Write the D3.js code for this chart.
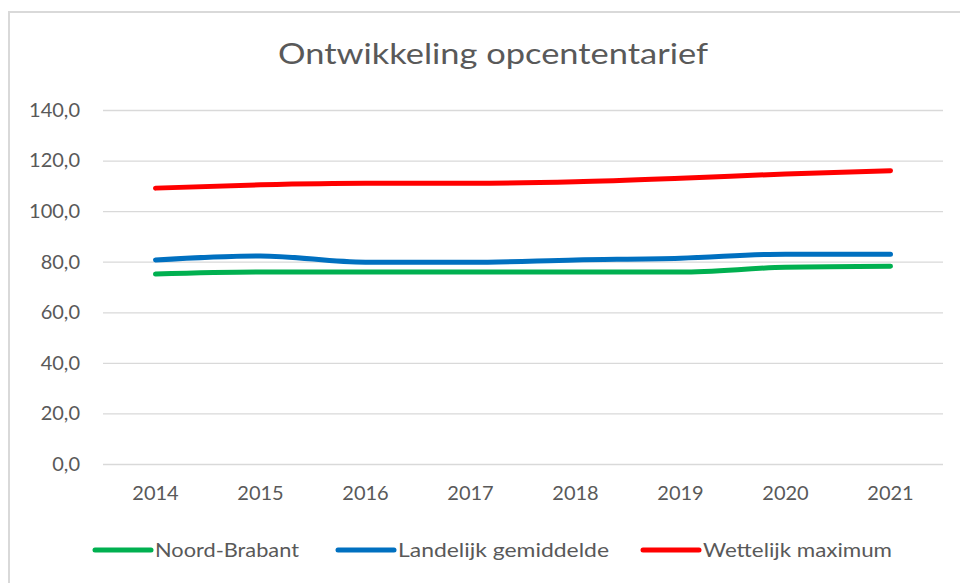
<!DOCTYPE html>
<html>
<head>
<meta charset="utf-8">
<script src="https://cdn.jsdelivr.net/npm/d3@7"></script>
<style>
	body{margin:0;background:#fff;}
	#line-div{width:960px;height:583px;}
	.axis text{font-family:Lato, "Open Sans", sans-serif;fill:#595959;}
</style>
</head>
<body>
<div id="line-div"></div>
<script>
var years=["2014","2015","2016","2017","2018","2019","2020","2021"];
var noordBrabant=[75.1,75.9,75.9,75.9,75.9,75.9,77.8,78.2];
var landelijk=[80.7,82.3,79.8,79.8,80.7,81.4,83.0,83.0];
var wettelijk=[109.1,110.4,111.0,111.0,111.6,113.0,114.7,116.0];
var yTicks=[0,20,40,60,80,100,120,140];
var seriesNames=["Noord-Brabant","Landelijk gemiddelde","Wettelijk maximum"];
var colorArr={"Noord-Brabant":"#00B050","Landelijk gemiddelde":"#0070C0","Wettelijk maximum":"#FF0000"};

var width=960, height=583;
var padding={left:103,right:17,top:110,bottom:119};

var svg=d3.select("#line-div")
		.append("svg")
		.attr("width",width)
		.attr("height",height);

// chart frame
svg.append("rect")
	.attr("x",9).attr("y",12)
	.attr("width",width).attr("height",height)
	.attr("fill","#fff")
	.attr("stroke","#D9D9D9")
	.attr("stroke-width",2);

svg.append("text")
	.attr("x",493)
	.attr("y",64)
	.attr("text-anchor","middle")
	.attr("textLength",430)
	.attr("lengthAdjust","spacingAndGlyphs")
	.style("font-family","Lato, 'Open Sans', sans-serif")
	.style("font-size","28px")
	.style("fill","#595959")
	.text("Ontwikkeling opcententarief");

var x_scale=d3.scaleBand().domain(years).range([padding.left,width-padding.right]);
var y_scale=d3.scaleLinear().domain([0,140]).range([height-padding.bottom,padding.top]);

var y_axis=d3.axisLeft(y_scale)
	.tickValues(yTicks)
	.tickSize(-(width-padding.left-padding.right))
	.tickPadding(23)
	.tickFormat(function(d){ return d3.format(".1f")(d).replace(".",","); });
var yg=svg.append("g")
	.attr("class","y axis")
	.attr("transform","translate("+padding.left+",0)")
	.call(y_axis);
yg.select(".domain").remove();
yg.selectAll("line").attr("stroke","#D9D9D9").attr("stroke-width",1.3);
yg.selectAll("text").style("font-size","20px");

var xg=svg.append("g")
	.attr("class","x axis")
	.attr("transform","translate(0,"+(height-padding.bottom)+")")
	.call(d3.axisBottom(x_scale).tickSize(0).tickPadding(22));
xg.select(".domain").remove();
xg.selectAll("text").style("font-size","20px");

var lineCurve=d3.line()
	.curve(d3.curveMonotoneX)
	.x(function(d,i){ return x_scale(years[i])+x_scale.bandwidth()/2; })
	.y(function(d){ return y_scale(d); });

var values=[noordBrabant,landelijk,wettelijk];
svg.append("g").attr("class","lineg")
	.selectAll("path")
	.data(values)
	.enter().append("path")
	.attr("d",function(d){ return lineCurve(d); })
	.style("stroke",function(d,i){ return colorArr[seriesNames[i]]; })
	.style("stroke-width","5px")
	.style("stroke-linecap","round")
	.style("fill","none");

// legend
var legendX=[95,338,643];
var legendW=[144,211,189];
var legend=svg.append("g").attr("class","labeltext")
	.selectAll("g")
	.data(seriesNames)
	.enter().append("g")
	.attr("transform",function(d,i){ return "translate("+legendX[i]+",550)"; });
legend.append("line")
	.attr("x1",0).attr("x2",56)
	.attr("y1",0).attr("y2",0)
	.attr("stroke",function(d){ return colorArr[d]; })
	.attr("stroke-width",5)
	.attr("stroke-linecap","round");
legend.append("text")
	.attr("x",60)
	.attr("y",7)
	.attr("textLength",function(d,i){ return legendW[i]; })
	.attr("lengthAdjust","spacingAndGlyphs")
	.style("font-family","Lato, 'Open Sans', sans-serif")
	.style("font-size","20px")
	.style("fill","#595959")
	.text(function(d){ return d; });
</script>
</body>
</html>
